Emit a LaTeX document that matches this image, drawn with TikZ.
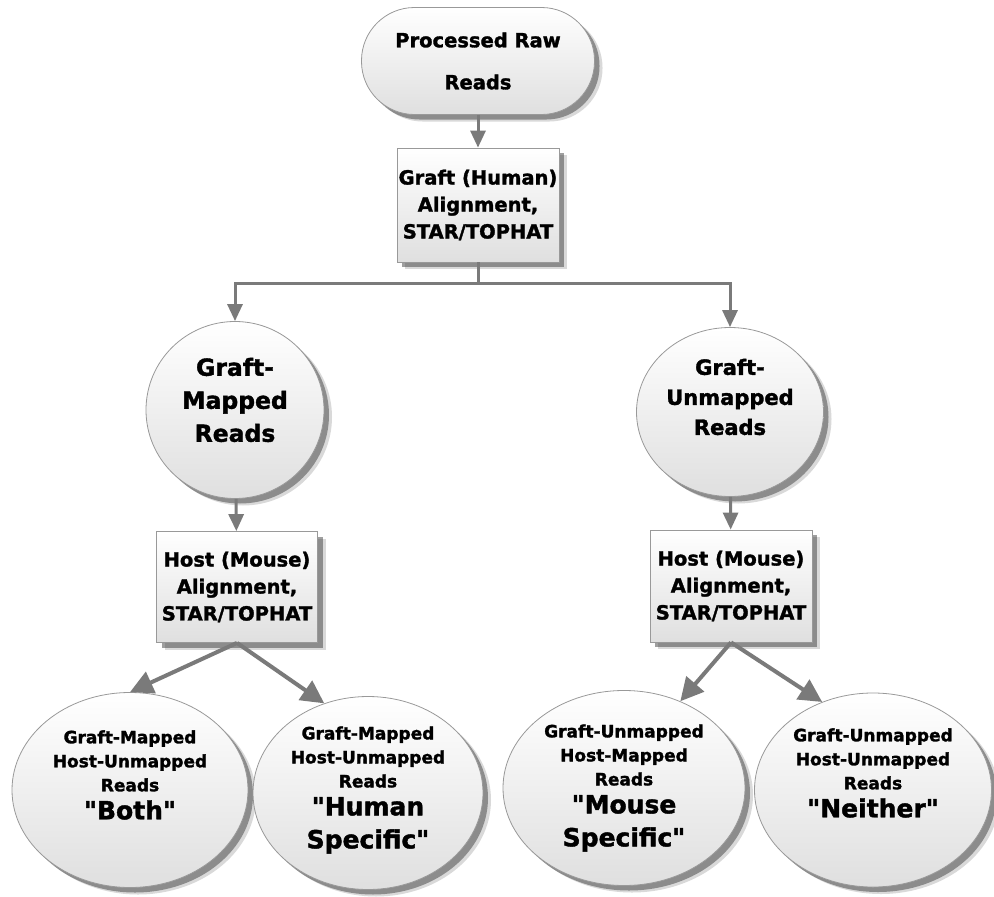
\documentclass[tikz,border=0pt]{standalone}
\usepackage{fontspec}
\setmainfont{DejaVu Sans}[BoldFeatures={FakeBold=1.6}]
\newfontfamily\plainfont{DejaVu Sans}[BoldFeatures={FakeBold=1.6}]
\usetikzlibrary{positioning}
\usetikzlibrary{arrows.meta}
\usetikzlibrary{shapes.geometric}
\usetikzlibrary{shadows}
\tikzset{>={Triangle[width=15pt,length=17pt]}}
\tikzset{
	box/.style={draw=gray!80, line width=0.8pt, top color=white, bottom color=gray!25, inner sep=0pt,
		drop shadow={shadow xshift=8pt, shadow yshift=-7pt, fill=black!60, opacity=.25},
		drop shadow={shadow xshift=5pt, shadow yshift=-5pt, fill=black!75, opacity=.5}},
	blob/.style={box, ellipse},
	words/.style={align=center, inner sep=0pt, font=\bfseries\fontsize{17}{24}\selectfont},
	flow/.style={draw=black!52, line width=3pt},
	fork/.style={draw=black!52, line width=4pt, -{Triangle[width=23pt,length=23pt]}}
}
\newcommand{\bigword}{\fontsize{25}{34}\selectfont}
\newcommand{\qt}{{\plainfont"}}

\begin{document}
\begin{tikzpicture}[x=1pt, y=-1pt]
	\useasboundingbox (0,0) rectangle (994,897);
	\node (RAW) [box, rounded corners=53pt, minimum width=233pt, minimum height=107pt, align=center, font=\bfseries\fontsize{19.5}{27}\selectfont] at (478,61) {Processed Raw\\[15pt] Reads};
	\node (GRAFT) [box, minimum width=162pt, minimum height=114pt, align=center, font=\bfseries\fontsize{19.5}{27}\selectfont] at (478,205) {Graft (Human)\\ Alignment,\\ STAR/TOPHAT};
	\coordinate (SPLIT) at (478,283);
	
	\node (GM) [blob, minimum width=178pt, minimum height=177pt] at (235,410) {};
	\node (GMTXT) [words, font=\bfseries\fontsize{23.5}{33}\selectfont] at ([yshift=10pt]GM) {Graft-\\ Mapped\\ Reads};
	\node (GU) [blob, minimum width=187pt, minimum height=169pt] at (730,412) {};
	\node (GUTXT) [words, font=\bfseries\fontsize{21}{30}\selectfont] at ([yshift=15pt]GU) {Graft-\\ Unmapped\\ Reads};
	
	\node (HOSTM) [box, minimum width=161pt, minimum height=111pt, align=center, font=\bfseries\fontsize{19.5}{27}\selectfont] at (237,587) {Host (Mouse)\\ Alignment,\\ STAR/TOPHAT};
	\node (HOSTU) [box, minimum width=162pt, minimum height=112pt, align=center, font=\bfseries\fontsize{19.5}{27}\selectfont] at (731,586) {Host (Mouse)\\ Alignment,\\ STAR/TOPHAT};
	
	\node (BOTH) [blob, minimum width=236pt, minimum height=195pt] at (130,790) {};
	\node (BOTHTXT) [words] at ([yshift=15pt]BOTH) {Graft-Mapped\\ Host-Unmapped\\ Reads\\[4pt] {\bigword \qt Both\qt}};
	\node (HUMAN) [blob, minimum width=230pt, minimum height=193pt] at (368,793) {};
	\node (HUMANTXT) [words] at ([yshift=3pt]HUMAN) {Graft-Mapped\\ Host-Unmapped\\ Reads\\[4pt] {\bigword \qt Human}\\[9pt] {\bigword Specific\qt}};
	\node (MOUSE) [blob, minimum width=242pt, minimum height=195pt] at (624,788) {};
	\node (MOUSETXT) [words] at (MOUSE) {Graft-Unmapped\\ Host-Mapped\\ Reads\\[4pt] {\bigword \qt Mouse}\\[9pt] {\bigword Specific\qt}};
	\node (NEITHER) [blob, minimum width=237pt, minimum height=194pt] at (873,790) {};
	\node (NEITHERTXT) [words] at ([yshift=17pt]NEITHER) {Graft-Unmapped\\ Host-Unmapped\\ Reads\\[4pt] {\bigword \qt Neither\qt}};
	
	\path [flow, ->] (RAW) -- (GRAFT);
	\path [flow] (GRAFT) -- (SPLIT);
	\path [flow, ->] (SPLIT) -| (GM);
	\path [flow, ->] (SPLIT) -| (GU);
	\path [flow, ->] (GM) -- (HOSTM);
	\path [flow, ->] (GU) -- (HOSTU);
	
	\path [fork] (HOSTM.south) -- (BOTH.north);
	\path [fork] (HOSTM.south) -- (HUMAN.116);
	\path [fork] (HOSTU.south) -- (MOUSE.57);
	\path [fork] (HOSTU.south) -- (NEITHER.120);
\end{tikzpicture}
\end{document}
